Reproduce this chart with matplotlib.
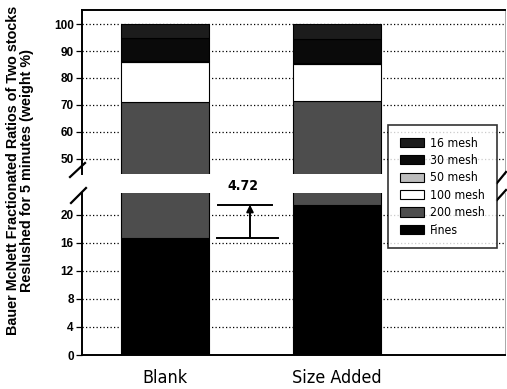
import matplotlib
matplotlib.use("Agg")
import matplotlib.pyplot as plt
from matplotlib.patches import Patch
from matplotlib.lines import Line2D
from matplotlib import font_manager

# --- data -------------------------------------------------------------
categories = ["Blank", "Size Added"]
fractions = ["Fines", "200 mesh", "100 mesh", "50 mesh", "30 mesh", "16 mesh"]
fines = [16.75, 21.47]
mesh_200 = [54.30, 50.00]
mesh_100 = [14.90, 13.80]
mesh_50 = [0.40, 0.40]
mesh_30 = [8.40, 8.60]
mesh_16 = [5.25, 5.73]
difference_label = "4.72"

upper_ticks = [50, 60, 70, 80, 90, 100]
lower_ticks = [0, 4, 8, 12, 16, 20]

series = [fines, mesh_200, mesh_100, mesh_50, mesh_30, mesh_16]
colors = {
    "Fines": "#000000",
    "200 mesh": "#4d4d4d",
    "100 mesh": "#ffffff",
    "50 mesh": "#bdbdbd",
    "30 mesh": "#0a0a0a",
    "16 mesh": "#1c1c1c",
}

# --- fonts: prefer a narrow sans for the category / legend text ---------
fonts = font_manager.fontManager.ttflist
narrow_props = dict(family="Liberation Sans")
narrow_scale = 0.9
if any(f.name == "Liberation Sans Narrow" for f in fonts):
    narrow_props = dict(family="Liberation Sans Narrow")
    narrow_scale = 1.0
elif any(f.name == "DejaVu Sans" and str(f.stretch) in ("condensed", "semi-condensed")
         or "Condensed" in f.fname for f in fonts if f.name == "DejaVu Sans"):
    narrow_props = dict(family="DejaVu Sans", stretch="condensed")
    narrow_scale = 0.92
plain = "Liberation Sans"

W, H = 507, 389
fig = plt.figure(figsize=(W / 100, H / 100), dpi=100)


def fx(px):
    return px / W


def fy(py):
    return 1 - py / H


left, right = 82, 505
ax_up = fig.add_axes([fx(left), fy(173.5), fx(right) - fx(left), fy(10) - fy(173.5)])
ax_lo = fig.add_axes([fx(left), fy(355), fx(right) - fx(left), fy(193) - fy(355)])

x = [0, 1]
width = 0.51
for ax in (ax_up, ax_lo):
    bottoms = [0.0, 0.0]
    for name, vals in zip(fractions, series):
        ax.bar(x, vals, width, bottom=bottoms, color=colors[name],
               edgecolor="black", linewidth=0.8, zorder=3)
        bottoms = [b + v for b, v in zip(bottoms, vals)]
    ax.set_xlim(-0.483, 1.977)
    ax.yaxis.grid(True, linestyle=(0, (1.0, 1.8)), color="black", linewidth=0.9, zorder=0)
    ax.set_axisbelow(True)
    ax.tick_params(axis="y", direction="out", length=4, width=0.9, pad=2,
                   labelsize=8.5)
    ax.spines["left"].set_linewidth(1.4)
    ax.spines["right"].set_color("#9a9a9a")
    ax.spines["right"].set_linewidth(0.6)

ax_up.set_ylim(44.6, 105.2)
ax_up.set_yticks(upper_ticks)
ax_up.spines["bottom"].set_visible(False)
ax_up.spines["top"].set_linewidth(1.4)
ax_up.set_xticks([])

ax_lo.set_ylim(0, 23.14)
ax_lo.set_yticks(lower_ticks)
ax_lo.spines["top"].set_visible(False)
ax_lo.spines["bottom"].set_linewidth(1.4)
ax_lo.set_xticks(x)
ax_lo.set_xticklabels(categories)
for lab in ax_lo.get_xticklabels():
    lab.set(size=14 * narrow_scale, **narrow_props)
ax_lo.tick_params(axis="x", length=0, pad=10)

for ax in (ax_up, ax_lo):
    for lab in ax.get_yticklabels():
        lab.set_family(plain)
        lab.set_fontweight("bold")

# difference marker between the two Fines levels
y_lo, y_hi = fines[0], fines[1]
ax_lo.plot([0.302, 0.657], [y_lo, y_lo], color="black", linewidth=1.4, zorder=4)
ax_lo.plot([0.308, 0.622], [y_hi, y_hi], color="black", linewidth=1.4, zorder=4)
ax_lo.annotate("", xy=(0.494, y_hi), xytext=(0.494, y_lo),
               arrowprops=dict(arrowstyle="-|>", color="black", lw=1.4,
                               mutation_scale=10, shrinkA=0, shrinkB=0),
               zorder=4)
ax_lo.text(0.453, y_hi + 1.6, difference_label, ha="center", va="bottom",
           size=11 * narrow_scale, fontweight="bold", clip_on=False, **narrow_props)

# axis break marks
for (x0, y0, x1, y1) in [(70, 177, 85, 163), (71, 203, 86, 188),
                         (497, 183, 506, 172), (497, 200, 506, 190)]:
    fig.add_artist(Line2D([fx(x0), fx(x1)], [fy(y0), fy(y1)],
                          color="black", linewidth=1.6))

# y-axis title
fig.text(fx(20), fy(170),
         "Bauer McNett Fractionated Ratios of Two stocks\nReslushed for 5 minutes (weight %)",
         rotation=90, ha="center", va="center", fontsize=10.4, family=plain,
         fontweight="bold", linespacing=1.05)

# legend
handles = [Patch(facecolor=colors[n], edgecolor="black", linewidth=0.8, label=n)
           for n in fractions[::-1]]
legend_font = font_manager.FontProperties(size=9.6 * narrow_scale, **narrow_props)
leg = fig.legend(handles=handles, loc="upper left",
                 bbox_to_anchor=(fx(388), fy(125)),
                 frameon=True, fancybox=False, edgecolor="black",
                 prop=legend_font,
                 handlelength=2.0, handleheight=0.8, handletextpad=0.5,
                 labelspacing=0.36, borderpad=0.95, borderaxespad=0)
leg.get_frame().set_linewidth(1.2)

fig.savefig("out.png", dpi=100)
